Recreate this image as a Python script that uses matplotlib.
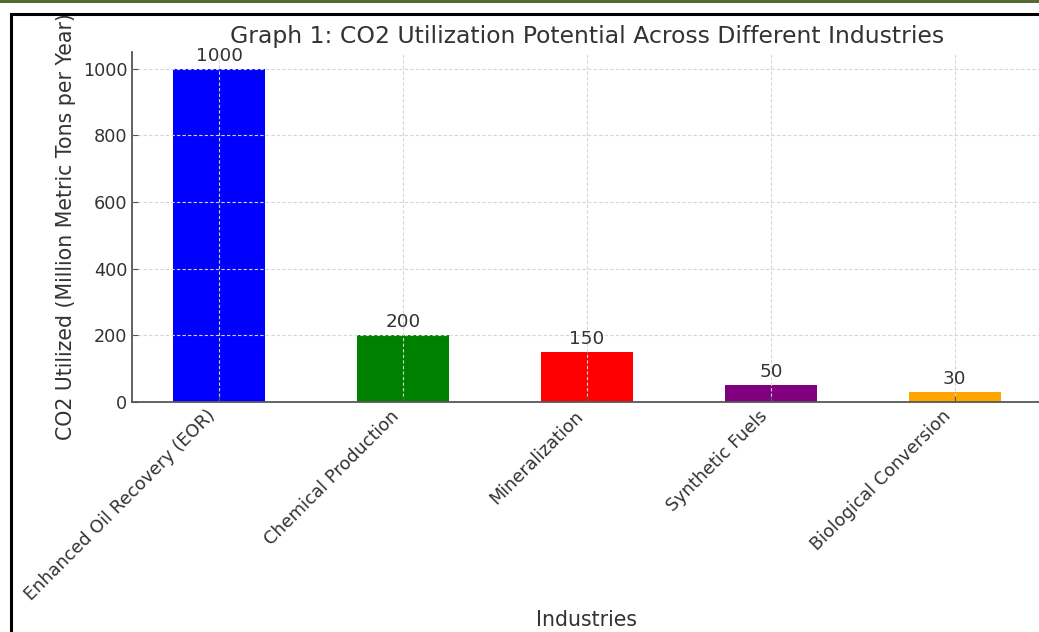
import matplotlib
matplotlib.use("Agg")
import matplotlib.pyplot as plt
from matplotlib.patches import Rectangle

# CO2 utilisation by industry (million metric tons per year)
industries = ["Enhanced Oil Recovery (EOR)", "Chemical Production", "Mineralization",
              "Synthetic Fuels", "Biological Conversion"]
co2_utilized = [1000, 200, 150, 50, 30]
bar_colors = ["blue", "green", "red", "purple", "orange"]

text_color = "#333333"
axis_color = "#555555"

fig = plt.figure(figsize=(10.39, 6.32), dpi=100)
W, H = 1039, 632

# page decoration: thin olive band on top and a black frame
fig.patches.append(Rectangle((0, 1 - 3 / H), 1, 3 / H, transform=fig.transFigure,
                             facecolor="#556b2f", edgecolor="none", zorder=0))
fig.patches.append(Rectangle((11 / W, -0.1), 1.2, 1.1 - 14 / H, transform=fig.transFigure,
                             facecolor="none", edgecolor="black", linewidth=2.2, zorder=0))

ax = fig.add_axes([132 / W, (H - 402) / H, 910 / W, 350 / H])
x = range(len(industries))
bars = ax.bar(x, co2_utilized, width=0.5, color=bar_colors)
ax.bar_label(bars, labels=[str(v) for v in co2_utilized], padding=3,
             fontsize=13.2, color=text_color)

ax.set_xticks(list(x))
ax.set_xticklabels(industries, rotation=45, ha="right", fontsize=12.7, color=text_color)
ax.tick_params(axis="y", labelsize=12.7, labelcolor=text_color)
ax.tick_params(direction="in", length=4, color=axis_color)
ax.set_xlim(-0.475, 4.475)
ax.set_ylim(0, 1050)
ax.set_yticks([0, 200, 400, 600, 800, 1000])

ax.set_title("Graph 1: CO2 Utilization Potential Across Different Industries",
             fontsize=16.9, color=text_color, pad=6.5)
ax.set_xlabel("Industries", fontsize=14.8, color=text_color, labelpad=4)
ax.set_ylabel("CO2 Utilized (Million Metric Tons per Year)", fontsize=14.8,
              color=text_color, labelpad=5)

ax.grid(True, linestyle=(0, (3, 2)), color="#d5d5d5", linewidth=0.8)
ax.set_axisbelow(False)
for side in ("top", "right"):
    ax.spines[side].set_visible(False)
for side in ("left", "bottom"):
    ax.spines[side].set_color(axis_color)
    ax.spines[side].set_linewidth(1.3)

fig.savefig("out.png", dpi=100)
